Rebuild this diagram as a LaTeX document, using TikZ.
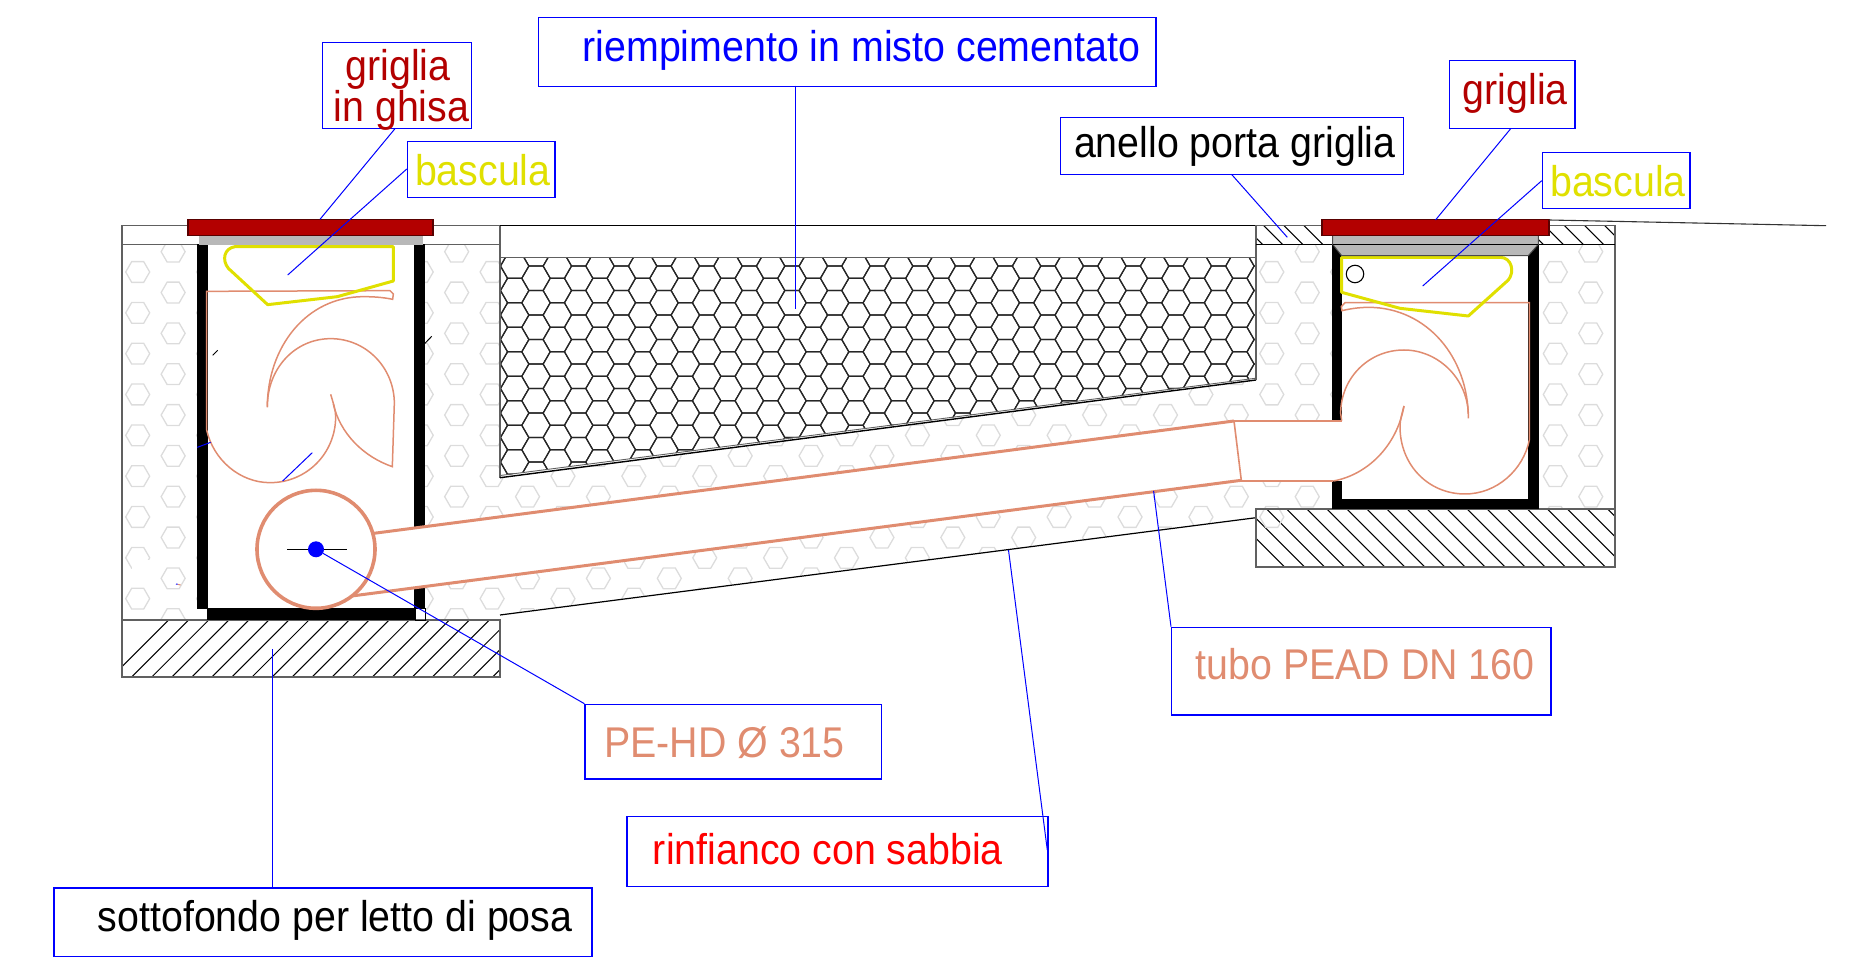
\documentclass[tikz,border=0pt]{standalone}
\usepackage{fontspec}
\setmainfont[FakeStretch=0.915]{Liberation Sans}
\definecolor{salm}{HTML}{E08C70}
\definecolor{ggred}{HTML}{B30000}
\definecolor{yell}{HTML}{E0E000}
\definecolor{lgray}{HTML}{DCDCDC}
\definecolor{dgray}{HTML}{606060}
\tikzset{
  leader/.style={draw=blue,line width=1pt},
  lbox/.style={draw=blue,line width=1.2pt,rectangle,inner sep=0pt,anchor=north west},
  ltext/.style={anchor=base west,inner sep=0pt,font=\fontsize{43}{40}\selectfont},
  thinsalm/.style={draw=salm,line width=1.5pt},
  thicksalm/.style={draw=salm,line width=3pt},
  yellowline/.style={draw=yell,line width=3pt,line join=round},
  outline/.style={draw=dgray,line width=1.4pt},
  hatchline/.style={draw=black,line width=1.05pt},
  sandhex/.style={draw=lgray,line width=1.3pt},
  combhex/.style={draw=black!85,line width=1.2pt},
  wall/.style={fill=black},
  zA/.style={shift={(100,200)},x=.33333pt,y=-.33333pt},
  zB/.style={shift={(100,440)},x=.33333pt,y=-.33333pt},
  zC/.style={shift={(1240,200)},x=.33333pt,y=-.33333pt},
}
\newcommand{\hexdraw}[4]{%
  \pgfmathsetmacro{\hxa}{#2-#4}\pgfmathsetmacro{\hxb}{#2-#4/2}\pgfmathsetmacro{\hxc}{#2+#4/2}\pgfmathsetmacro{\hxd}{#2+#4}%
  \pgfmathsetmacro{\hya}{#3-.866*#4}\pgfmathsetmacro{\hyb}{#3+.866*#4}%
  \draw[#1] (\hxa,#3) -- (\hxb,\hya) -- (\hxc,\hya) -- (\hxd,#3) -- (\hxc,\hyb) -- (\hxb,\hyb) -- cycle;}
\begin{document}
\begin{tikzpicture}[x=1pt,y=-1pt]
\useasboundingbox (0,0) rectangle (1856,957);
% ---------- hatching
\begin{scope}
  \clip (122,620) rectangle (500,677);
  \foreach \k in {-1,...,21}{
    \pgfmathsetmacro{\xs}{131.7+20.05*\k}
    \draw[hatchline] (\xs,677) -- ++(60,-60);
  }
\end{scope}
\begin{scope}
  \clip (1256,509) rectangle (1615,567);
  \foreach \k in {-3,...,17}{
    \pgfmathsetmacro{\xs}{1286.7+20.05*\k}
    \draw[hatchline] (\xs,509) -- ++(60,60);
  }
\end{scope}
\begin{scope}
  \clip (1256,225.5) rectangle (1615,244.5);
  \foreach \k in {-1,...,18}{
    \pgfmathsetmacro{\xs}{1263.7+20.05*\k}
    \draw[hatchline] (\xs,225.5) -- ++(20,20);
  }
\end{scope}
% ---------- sand hexagons
\begin{scope}
  \clip (122,244.5) -- (197,244.5) -- (197,620) -- (122,620) -- cycle
        (425,244.5) -- (500,244.5) -- (500,478) -- (1256,380) -- (1256,244.5) -- (1332,244.5) -- (1332,509) -- (1290,509) -- (1290,530) -- (1256,530) -- (1256,517.7) -- (500,615) -- (500,620) -- (425,620) -- cycle
        (1539,244.5) -- (1615,244.5) -- (1615,509) -- (1539,509) -- cycle;
  \foreach \i in {0,...,41}{
    \foreach \j in {0,...,9}{
      \pgfmathsetmacro{\cx}{137.7+35.44*\i}
      \pgfmathsetmacro{\cy}{(mod(\i,2)==0 ? 272 : 251.7)+40.83*\j}
      \hexdraw{sandhex}{\cx}{\cy}{12}
    }
  }
\end{scope}
\fill[white] (131.7,560) rectangle (152,573);
% ---------- honeycomb fill
\begin{scope}
  \clip (500,257.7) -- (1256,257.7) -- (1256,378.5) -- (500,475.7) -- cycle;
  \foreach \i in {-2,...,34}{
    \foreach \j in {-2,...,9}{
      \pgfmathsetmacro{\cx}{536+21.33*\i}
      \pgfmathsetmacro{\cy}{(mod(\i,2)==0 ? 278.3 : 266.05)+24.5*\j}
      \hexdraw{combhex}{\cx}{\cy}{14.2}
    }
  }
\end{scope}
% ---------- outlines
\draw[outline] (122,620) -- (122,225.5) -- (188,225.5);
\draw[outline] (122,244.5) -- (197,244.5);
\draw[outline] (425,244.5) -- (500,244.5);
\draw[outline] (433,225.5) -- (500,225.5);
\draw[outline] (500,225.5) -- (500,477.7);
\draw[draw=black,line width=1.4pt] (500,225.5) -- (1256,225.5);
\draw[outline] (500,257.7) -- (1256,257.7);
\draw[draw=black,line width=1.4pt] (500,477.7) -- (1256,380);
\draw[draw=dgray,line width=.9pt] (500,475.5) -- (1256,378.2);
\draw[outline] (1256,225.5) -- (1256,380);
\draw[outline] (122,620) rectangle (500,677);
\draw[draw=black,line width=1.2pt] (500,615) -- (1256,517.7);
\draw[outline] (1256,509) rectangle (1615,567);
\draw[draw=dgray,line width=1.2pt] (1256,225.5) -- (1615,225.5) -- (1615,509);
\draw[draw=black,line width=1.2pt] (1256,244.5) -- (1615,244.5);
% ---------- left pit walls
\fill[wall] (197,244.5) rectangle (207.7,609.3);
\fill[wall] (414.3,244.5) rectangle (425,608.3);
\fill[wall] (207,608.3) rectangle (415,620);
\draw[draw=black,line width=.8pt] (415,608.3) rectangle (425,620);
% ---------- right pit walls
\fill[wall] (1331.7,244.5) rectangle (1342.3,509);
\fill[wall] (1528.3,244.5) rectangle (1539,509);
\fill[wall] (1331.7,499) rectangle (1539,509);
% ---------- pipe (white body over walls)
\fill[white] (374,533.3) -- (1234,421) -- (1241.3,481) -- (351.7,596) -- cycle;
\fill[white] (1234,421) rectangle (1343,481);
% left pit leftovers
\begin{scope}[zA]
  \draw[draw=black,line width=1pt] (338,466) -- (353,451);
  \draw[draw=black,line width=1pt] (975,430) -- (995,409);
\end{scope}
% ---------- pipe lines
\draw[thicksalm] (374,533.3) -- (1234,421);
\draw[thicksalm] (351.7,596) -- (1241.3,480.3);
\draw[thinsalm,line width=1.6pt] (1234,421) -- (1241.3,480.3);
\draw[thinsalm,line width=1.6pt] (1234,421) -- (1342,421);
\draw[thinsalm,line width=1.6pt] (1241.3,481) -- (1333,481);
% ---------- manhole circle
\node[circle,draw=salm,line width=3.6pt,fill=white,minimum size=118pt,inner sep=0pt] (manhole) at (316,549.3) {};
\coordinate (axisL) at (287.3,549.3);
\coordinate (axisR) at (346.7,549.3);
\draw[draw=black,line width=1pt] (axisL) -- (axisR);
\node[circle,fill=blue,minimum size=16pt,inner sep=0pt] (dot) at (316,549.3) {};
% ---------- left pit swirl
\begin{scope}[zA]
  \draw[thinsalm] (692,583) .. controls (700,610) and (707,630) .. (707,650)
     .. controls (707,760) and (620,848) .. (510,848)
     .. controls (420,848) and (340,780) .. (320,690) -- (320,274) -- (870,272) -- (880,282) -- (878,298)
     .. controls (850,292) and (820,290) .. (790,290)
     .. controls (620,290) and (502,440) .. (502,622);
  \draw[thinsalm] (502,620) .. controls (502,505) and (585,416) .. (692,416)
     .. controls (800,416) and (883,505) .. (883,610) -- (877,800)
     .. controls (790,770) and (720,700) .. (700,612);
  \draw[yellowline] (405,140) -- (880,140) -- (880,243) -- (712,290) -- (503,314) -- (385,205)
     .. controls (365,180) and (372,145) .. (405,140) -- cycle;
  \draw[leader] (292,742) -- (332,727);
  \draw[leader] (548,843) -- (637,758);
\end{scope}
\begin{scope}[zB]
  \draw[leader] (228,432) -- (233,433);
  \draw[draw=salm,line width=1pt] (233,433) -- (242,435);
\end{scope}
% ---------- right pit swirl
\begin{scope}[zC]
  \draw[thinsalm] (492,618) .. controls (485,645) and (480,660) .. (480,680)
     .. controls (480,795) and (565,882) .. (675,882)
     .. controls (770,882) and (850,810) .. (868,720) -- (868,308) -- (315,308) -- (304,320) -- (306,332)
     .. controls (340,324) and (365,322) .. (390,322)
     .. controls (560,325) and (685,470) .. (685,655);
  \draw[thinsalm] (685,640) .. controls (680,530) and (590,450) .. (492,450)
     .. controls (385,450) and (302,535) .. (302,640) -- (305,662);
  \draw[thinsalm] (492,618) .. controls (470,740) and (380,825) .. (280,843);
  \draw[yellowline] (305,172) -- (780,172) .. controls (815,172) and (825,215) .. (805,240)
     -- (685,348) -- (480,325) -- (305,277) -- cycle;
  \node[circle,draw=black,line width=1.1pt,minimum size=17.5pt,inner sep=0pt] (hinge) at (345,222) {};
\end{scope}
% ---------- gratings
\fill[fill=black!28] (198.7,235.5) rectangle (423,245);
\begin{scope}[zC]
  \draw[fill=black!28,draw=black!70,line width=1pt] (278,106) -- (895,106) -- (895,133) -- (865,167) -- (305,167) -- (278,133) -- cycle;
  \draw[draw=black,line width=1.2pt] (278,133) -- (895,133);
\end{scope}
\draw[fill=ggred,draw=ggred!50!black,line width=1.2pt] (188,219.5) rectangle (433,235.5);
\draw[fill=ggred,draw=ggred!50!black,line width=1.2pt] (1322,219.5) rectangle (1549,235.5);
\coordinate (roadEnd) at (1826,225.7);
\draw[draw=black!80,line width=1.1pt] (1549,220) -- (roadEnd);
% ---------- labels
\node[lbox,minimum width=149.2pt,minimum height=86pt] (b1) at (321.8,42.3) {};
\node[lbox,minimum width=147.5pt,minimum height=55.7pt] (b2) at (406.8,141.3) {};
\node[lbox,minimum width=617.3pt,minimum height=68.7pt] (b3) at (538,17) {};
\node[lbox,minimum width=343.4pt,minimum height=57pt] (b4) at (1059.8,117.3) {};
\node[lbox,minimum width=125.9pt,minimum height=68pt] (b5) at (1448.5,60.3) {};
\node[lbox,minimum width=147.7pt,minimum height=56pt] (b6) at (1541.7,152.3) {};
\node[lbox,minimum width=379.4pt,minimum height=87.6pt] (b7) at (1171,626.7) {};
\node[lbox,minimum width=296.2pt,minimum height=74.6pt] (b8) at (584.4,703.7) {};
\node[lbox,minimum width=421pt,minimum height=70pt] (b9) at (626.3,815.7) {};
\node[lbox,minimum width=537.9pt,minimum height=69pt] (b10) at (53.4,887.3) {};
\node[anchor=center,inner sep=0pt,align=center,text=ggred,font=\fontsize{43}{40}\selectfont] (t1) at (401.5,90) {griglia\hspace*{7pt}\\in ghisa};
\node[ltext,text=yell] (t2) at (414.8,185.3) {bascula};
\node[ltext,text=blue] (t3) at (582.4,61.5) {riempimento in misto cementato};
\node[ltext,text=black] (t4) at (1073.8,157.5) {anello porta griglia};
\node[ltext,text=ggred] (t5) at (1462.6,104.8) {griglia};
\node[ltext,text=yell] (t6) at (1550,196.8) {bascula};
\node[ltext,text=salm] (t7) at (1195.5,679.2) {tubo PEAD DN 160};
\node[ltext,text=salm] (t8) at (604,757.2) {PE-HD Ø 315};
\node[ltext,text=red] (t9) at (652.7,864.8) {rinfianco con sabbia};
\node[ltext,text=black] (t10) at (97.6,931.5) {sottofondo per letto di posa};
% ---------- leaders
\coordinate (a1) at (395.3,128.3);  \coordinate (e1) at (320,219.3);
\coordinate (a2) at (406.8,169);    \coordinate (e2) at (287.7,275);
\coordinate (a3) at (795,85.7);     \coordinate (e3) at (795,309.3);
\coordinate (a4) at (1231.5,174.3); \coordinate (e4) at (1287.3,237.3);
\coordinate (a5) at (1511,128.3);   \coordinate (e5) at (1435.5,220);
\coordinate (a6) at (1541.7,180.7); \coordinate (e6) at (1422.7,286);
\coordinate (a7) at (1171,626.7);   \coordinate (e7) at (1153.6,491);
\coordinate (a8) at (584.4,703.7);
\coordinate (a9) at (1047.3,850);   \coordinate (e9) at (1008.5,550);
\coordinate (a10) at (272.5,887.3); \coordinate (e10) at (272.5,649.3);
\draw[leader] (a1) -- (e1);
\draw[leader] (a2) -- (e2);
\draw[leader] (a3) -- (e3);
\draw[leader] (a4) -- (e4);
\draw[leader] (a5) -- (e5);
\draw[leader] (a6) -- (e6);
\draw[leader] (a7) -- (e7);
\draw[leader] (a8) -- (dot);
\draw[leader] (a9) -- (e9);
\draw[leader] (a10) -- (e10);
\end{tikzpicture}
\end{document}
